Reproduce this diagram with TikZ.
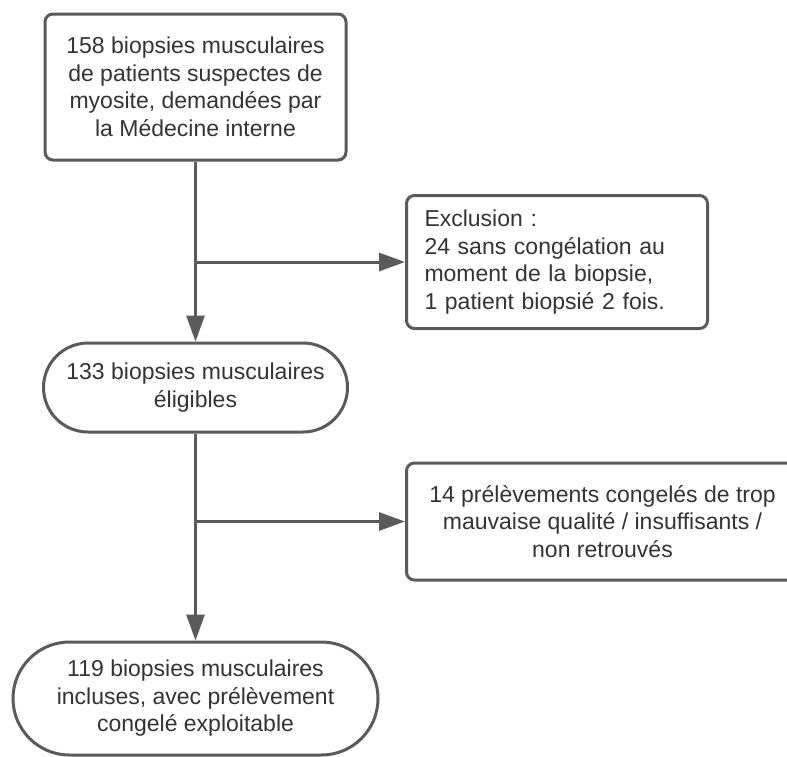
\documentclass[tikz,border=0pt]{standalone}
\usepackage{fontspec}
\setmainfont{Liberation Sans}
\usetikzlibrary{arrows.meta}
\usetikzlibrary{positioning}
\usetikzlibrary{shapes.misc}

\definecolor{lineclr}{HTML}{5A5A5A}
\definecolor{txtclr}{HTML}{333333}

\tikzset{
    box/.style = {draw=lineclr, line width=3pt, rounded corners=8pt, text=txtclr, align=center, inner sep=0pt},
    pill/.style = {draw=lineclr, line width=3pt, rounded rectangle, text=txtclr, align=center, inner sep=0pt},
    flow/.style = {draw=lineclr, line width=3pt, -{Triangle[length=26pt,width=18pt]}}
}

\begin{document}
\begin{tikzpicture}[x=1pt, y=-1pt, font=\fontsize{23}{27.5}\selectfont]
    \clip (0,0) rectangle (787,756);
    \node[box, minimum width=301pt, minimum height=146pt] (demand) at (195.5,87)
        {158 biopsies musculaires\\de patients suspectes de\\myosite, demandées par\\la Médecine interne};
    \node[box, anchor=west, text width=265pt, inner xsep=18pt, minimum height=133pt, align=left] (excl) at (405,262)
        {Exclusion :\\24 sans congélation au\\moment de la biopsie,\\1 patient biopsié 2 fois.};
    \node[pill, minimum width=304pt, minimum height=89pt] (eligible) at (195.5,387.5)
        {133 biopsies musculaires\\éligibles};
    \node[box, anchor=west, minimum width=392pt, minimum height=117pt] (quality) at (405,521.5)
        {14 prélèvements congelés de trop\\mauvaise qualité / insuffisants /\\non retrouvés};
    \node[pill, minimum width=365pt, minimum height=113pt] (included) at (195.5,698.5)
        {119 biopsies musculaires\\incluses, avec prélèvement\\congelé exploitable};

    \coordinate (split1) at (demand.south |- excl.west);
    \coordinate (split2) at (eligible.south |- quality.west);

    \draw[flow] (demand.south) -- (eligible.north);
    \draw[flow] (split1) -- (excl.west);
    \draw[flow] (eligible.south) -- (included.north);
    \draw[flow] (split2) -- (quality.west);
\end{tikzpicture}
\end{document}
